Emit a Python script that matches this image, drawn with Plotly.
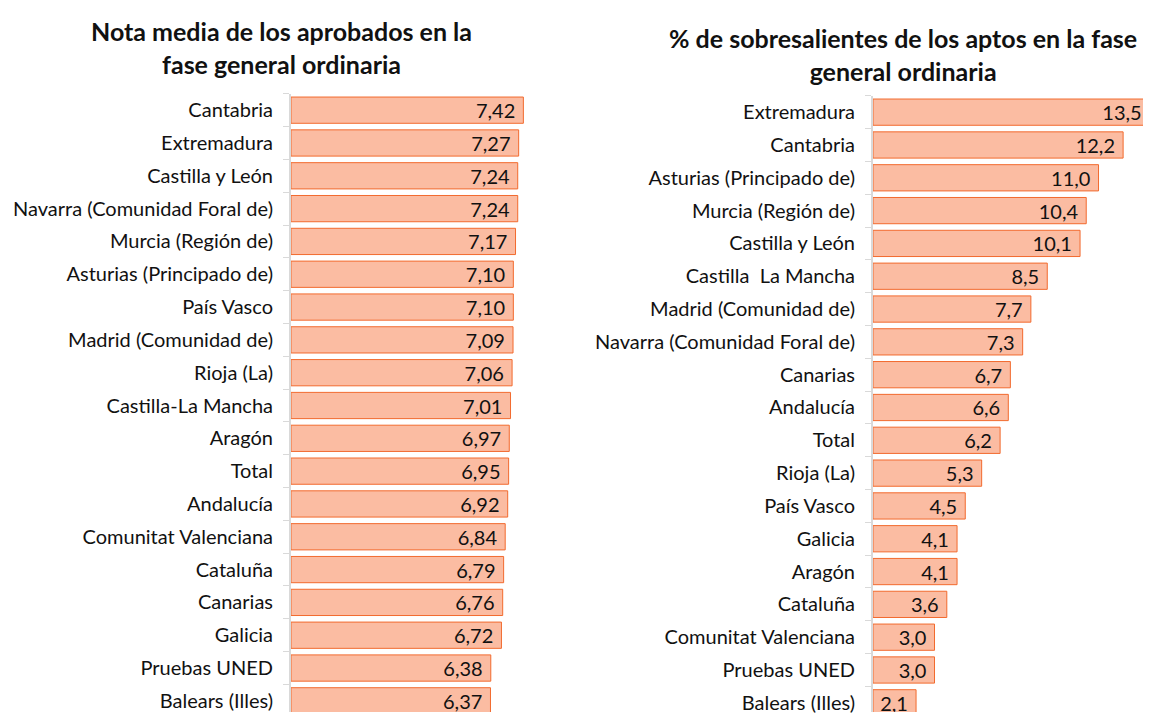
import plotly.graph_objects as go

# ── data ──────────────────────────────────────────────────────────────────────
LEFT_TITLE = "<b>Nota media de los aprobados en la<br>fase general ordinaria</b>"
left_regions = [
    "Cantabria", "Extremadura", "Castilla y León", "Navarra (Comunidad Foral de)",
    "Murcia (Región de)", "Asturias (Principado de)", "País Vasco",
    "Madrid (Comunidad de)", "Rioja (La)", "Castilla-La Mancha", "Aragón", "Total",
    "Andalucía", "Comunitat Valenciana", "Cataluña", "Canarias", "Galicia",
    "Pruebas UNED", "Balears (Illes)",
]
left_values = [7.42, 7.27, 7.24, 7.24, 7.17, 7.10, 7.10, 7.09, 7.06, 7.01,
               6.97, 6.95, 6.92, 6.84, 6.79, 6.76, 6.72, 6.38, 6.37]

RIGHT_TITLE = "<b>% de sobresalientes de los aptos en la fase<br>general ordinaria</b>"
right_regions = [
    "Extremadura", "Cantabria", "Asturias (Principado de)", "Murcia (Región de)",
    "Castilla y León", "Castilla  La Mancha", "Madrid (Comunidad de)",
    "Navarra (Comunidad Foral de)", "Canarias", "Andalucía", "Total", "Rioja (La)",
    "País Vasco", "Galicia", "Aragón", "Cataluña", "Comunitat Valenciana",
    "Pruebas UNED", "Balears (Illes)",
]
right_values = [13.5, 12.2, 11.0, 10.4, 10.1, 8.5, 7.7, 7.3, 6.7, 6.6, 6.2,
                5.3, 4.5, 4.1, 4.1, 3.6, 3.0, 3.0, 2.1]

# ── style ─────────────────────────────────────────────────────────────────────
# page body has an 8px margin, so the figure is drawn 8px smaller
W, H = 1143, 706
FONT = "Lato"
FS = 20
BAR_FILL = "#FBBCA2"
BAR_LINE = "#F26A2E"
AXIS_GREY = "#D9D9D9"


def _fmt(v, nd):
    return (f"{v:.{nd}f}").replace(".", ",") + "\u00a0"


fig = go.Figure()

fig.add_trace(go.Bar(
    y=left_regions, x=left_values, orientation="h",
    marker=dict(color=BAR_FILL, line=dict(color=BAR_LINE, width=1)),
    text=[_fmt(v, 2) for v in left_values],
    textposition="inside", insidetextanchor="end",
    textfont=dict(family=FONT, size=FS, color="#111"),
    xaxis="x", yaxis="y", width=0.8, hoverinfo="skip",
))

fig.add_trace(go.Bar(
    y=right_regions, x=right_values, orientation="h",
    marker=dict(color=BAR_FILL, line=dict(color=BAR_LINE, width=1)),
    text=[_fmt(v, 1) for v in right_values],
    textposition="inside", insidetextanchor="end",
    textfont=dict(family=FONT, size=FS, color="#111"),
    xaxis="x2", yaxis="y2", width=0.8, hoverinfo="skip",
))

_yaxis = dict(
    type="category", showline=True, linecolor=AXIS_GREY, linewidth=2,
    ticks="outside", tickson="boundaries", ticklen=6, tickcolor=AXIS_GREY,
    ticklabelstandoff=12,
    tickfont=dict(family=FONT, size=FS, color="#111"),
    showgrid=False, zeroline=False, fixedrange=True,
)

fig.update_layout(
    width=W, height=H,
    margin=dict(l=0, r=0, t=0, b=0),
    plot_bgcolor="white", paper_bgcolor="white",
    showlegend=False, bargap=0.2,
    font=dict(family=FONT, color="#111"),
    uniformtext=dict(mode="show", minsize=FS),
    xaxis=dict(domain=[283 / W, 552 / W], range=[0, 8.59], visible=False),
    xaxis2=dict(domain=[865 / W, 1.0], range=[0, 13.56], visible=False),
    yaxis=dict(_yaxis, anchor="x", domain=[0, 1 - 86 / H],
               categoryorder="array", categoryarray=left_regions,
               range=[18.34, -0.5]),
    yaxis2=dict(_yaxis, anchor="x2", domain=[0, 1 - 88 / H],
                categoryorder="array", categoryarray=right_regions,
                range=[18.28, -0.5]),
    annotations=[
        dict(text=LEFT_TITLE, x=273 / W, y=1 - 6 / H, xref="paper", yref="paper",
             xanchor="center", yanchor="top", showarrow=False,
             font=dict(family=FONT, size=25, color="#111")),
        dict(text=RIGHT_TITLE, x=895 / W, y=1 - 13 / H, xref="paper", yref="paper",
             xanchor="center", yanchor="top", showarrow=False,
             font=dict(family=FONT, size=25, color="#111")),
    ],
)

fig.write_html("out.html")
